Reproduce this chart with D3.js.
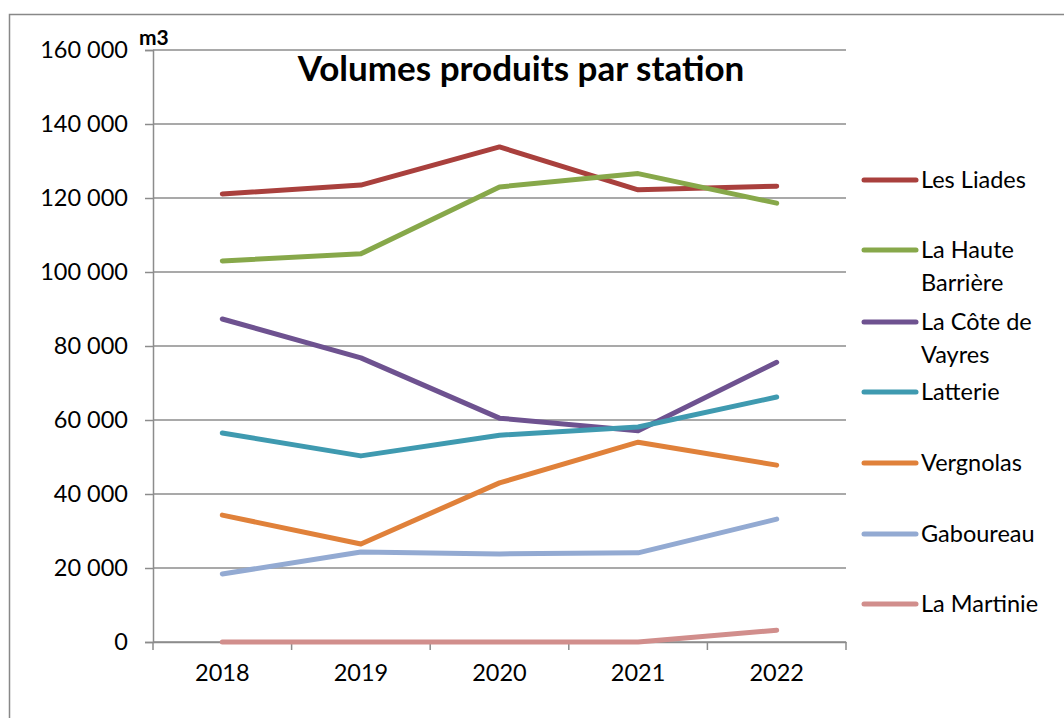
<!DOCTYPE html>
<html>
<head>
<meta charset="utf-8">
<script src="https://cdn.jsdelivr.net/npm/d3@7"></script>
<style>
  body { margin: 0; background: #fff; }
  svg { font-family: Lato, "Open Sans", sans-serif; }
</style>
</head>
<body>
<div id="chart"></div>
<script>
var years = ["2018", "2019", "2020", "2021", "2022"];
var stations = ["Les Liades", "La Haute Barrière", "La Côte de Vayres", "Latterie", "Vergnolas", "Gaboureau", "La Martinie"];
var colors = ["#A9403D", "#87A84A", "#6E5290", "#3F9AB0", "#E0813A", "#93AAD2", "#D18E8C"];
var lesLiades   = [121100, 123500, 133800, 122200, 123200];
var hauteBarr   = [103000, 104900, 123000, 126600, 118600];
var coteVayres  = [87300, 76800, 60500, 57100, 75600];
var latterie    = [56500, 50300, 55900, 58100, 66200];
var vergnolas   = [34300, 26500, 43000, 54000, 47800];
var gaboureau   = [18400, 24300, 23800, 24100, 33200];
var martinie    = [0, 0, 0, 0, 3200];
var yTicks = [0, 20000, 40000, 60000, 80000, 100000, 120000, 140000, 160000];

var series = [lesLiades, hauteBarr, coteVayres, latterie, vergnolas, gaboureau, martinie];

var svg = d3.select("#chart").append("svg")
  .attr("width", 1064).attr("height", 718);

// outer frame (runs off the right/bottom edge)
svg.append("rect")
  .attr("x", 9.5).attr("y", 14.5)
  .attr("width", 1070).attr("height", 720)
  .attr("fill", "none").attr("stroke", "#888").attr("stroke-width", 1.5);

var plotL = 153, plotR = 846, plotT = 50, plotB = 642;

var x = d3.scaleBand().domain(years).range([plotL, plotR]);
var y = d3.scaleLinear().domain([0, 160000]).range([plotB, plotT]);

var fmt = function(d){ return d3.format(",")(d).replace(/,/g, " "); };

// grid
svg.selectAll(".grid").data(yTicks).enter().append("line")
  .attr("x1", plotL).attr("x2", plotR)
  .attr("y1", function(d){ return y(d); }).attr("y2", function(d){ return y(d); })
  .attr("stroke", "#8c8c8c").attr("stroke-width", 1.5);

// y axis
var yAxis = svg.append("g").attr("transform", "translate(" + plotL + ",0)")
  .call(d3.axisLeft(y).tickValues(yTicks).tickFormat(fmt).tickSize(8).tickPadding(17));
yAxis.select(".domain").attr("stroke", "#8c8c8c").attr("stroke-width", 1.5);
yAxis.selectAll(".tick line").attr("stroke", "#8c8c8c").attr("stroke-width", 1.5);
yAxis.selectAll("text").attr("font-size", 23.5).attr("fill", "#000")
  .attr("font-family", "Lato, 'Open Sans', sans-serif");

// x axis
var xAxis = svg.append("g").attr("transform", "translate(0," + plotB + ")")
  .call(d3.axisBottom(x).tickSize(0).tickPadding(22));
xAxis.select(".domain").attr("stroke", "#8c8c8c").attr("stroke-width", 1.5);
xAxis.selectAll("text").attr("font-size", 23.5).attr("fill", "#000")
  .attr("font-family", "Lato, 'Open Sans', sans-serif");
var xEdges = years.map(function(d){ return x(d); }).concat([plotR]);
svg.selectAll(".xtick").data(xEdges).enter().append("line")
  .attr("x1", function(d){ return d; }).attr("x2", function(d){ return d; })
  .attr("y1", plotB).attr("y2", plotB + 8)
  .attr("stroke", "#8c8c8c").attr("stroke-width", 1.5);

// lines
var line = d3.line()
  .x(function(d, i){ return x(years[i]) + x.bandwidth() / 2; })
  .y(function(d){ return y(d); });

svg.selectAll(".series").data(series).enter().append("path")
  .attr("d", line)
  .attr("fill", "none")
  .attr("stroke", function(d, i){ return colors[i]; })
  .attr("stroke-width", 5)
  .attr("stroke-linecap", "round")
  .attr("stroke-linejoin", "round");

// legend
var legendY = [180, 250, 322, 392, 463, 534, 604];
var legendLabels = [["Les Liades"], ["La Haute", "Barrière"], ["La Côte de", "Vayres"], ["Latterie"], ["Vergnolas"], ["Gaboureau"], ["La Martinie"]];
var lg = svg.selectAll(".legend").data(stations).enter().append("g")
  .attr("transform", function(d, i){ return "translate(0," + legendY[i] + ")"; });
lg.append("line")
  .attr("x1", 864).attr("x2", 916).attr("y1", 0).attr("y2", 0)
  .attr("stroke", function(d, i){ return colors[i]; })
  .attr("stroke-width", 5).attr("stroke-linecap", "round");
lg.each(function(d, i){
  var t = d3.select(this).append("text")
    .attr("x", 921).attr("y", 8)
    .attr("font-size", 23.5).attr("fill", "#000");
  legendLabels[i].forEach(function(s, j){
    t.append("tspan").attr("x", 921).attr("dy", j === 0 ? 0 : 33).text(s);
  });
});

// title and unit
svg.append("text")
  .attr("x", 521).attr("y", 81)
  .attr("text-anchor", "middle")
  .attr("font-size", 35).attr("font-weight", "bold")
  .text("Volumes produits par station");

svg.append("text")
  .attr("x", 139).attr("y", 45)
  .attr("font-size", 21).attr("font-weight", "bold")
  .text("m3");
</script>
</body>
</html>
